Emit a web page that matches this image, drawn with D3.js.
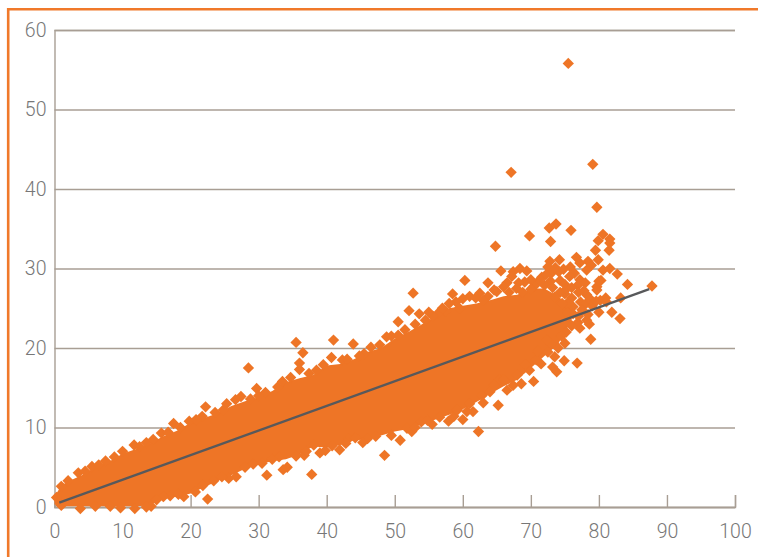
<!DOCTYPE html>
<html>
<head>
<meta charset="utf-8">
<script src="https://cdn.jsdelivr.net/npm/d3@7"></script>
<style>
  html, body { margin: 0; padding: 0; background: #fff; }
  svg { display: block; }
  .tick text { font-family: Roboto, "Liberation Sans", sans-serif; font-weight: 300; font-size: 19.5px; fill: #777777; }
</style>
</head>
<body>
<div id="chart"></div>
<script>
// Axis ticks
const xTicks = [0, 10, 20, 30, 40, 50, 60, 70, 80, 90, 100];
const yTicks = [0, 10, 20, 30, 40, 50, 60];

// The solid middle of the cloud, where single points can't be told apart:
// upper and lower edge at each x
const bandX = [0, 1, 2, 4, 6, 8, 10, 12, 14, 16, 18, 20, 22, 24, 26, 28, 30, 32, 34, 36, 38, 40, 42, 44, 46, 48, 50, 52, 54, 56, 58, 60, 62, 64, 66, 68, 70, 72, 74, 76];
const bandHigh = [1.3, 2.7, 3.2, 4.0, 5.0, 5.7, 6.7, 7.3, 8.0, 8.9, 9.6, 10.6, 11.2, 11.8, 12.7, 13.3, 13.8, 14.6, 15.7, 16.2, 16.6, 17.8, 18.0, 18.6, 19.5, 20.0, 21.2, 22.0, 23.0, 24.0, 25.0, 25.3, 25.6, 26.0, 26.5, 26.7, 27.5, 27.5, 26.5, 25.0];
const bandLow = [0.3, 0.1, 0.1, 0.1, 0.1, 0.1, 0.1, 0.1, 0.2, 1.3, 1.3, 1.7, 2.5, 3.3, 4.0, 4.8, 5.3, 5.8, 6.0, 6.6, 7.6, 7.5, 7.8, 8.4, 8.5, 9.0, 9.5, 9.8, 10.4, 11.0, 11.6, 12.3, 13.2, 14.2, 15.2, 16.0, 17.5, 19.0, 20.5, 23.5];

// Points that stand clear of the solid part, as [x, y]
const points = [
  // far outliers
  [75.5, 55.8], [79.1, 43.1], [67.1, 42.1], [79.7, 37.7], [73.7, 35.6], [72.7, 35.1], [75.9, 34.8], [69.8, 34.1], [64.8, 32.8], [72.9, 33.4],
  [80.6, 34.3], [79.9, 33.5], [81.6, 33.7], [81.5, 32.3], [79.5, 32.3], [79.9, 31.1], [81.6, 33.2],
  // top right, thin part of the cloud
  [65.6, 29.7], [67.4, 29.6], [68.4, 30.0], [69.4, 29.7], [67.2, 29.0], [63.7, 28.2], [69.1, 28.3], [72.8, 30.9], [74.2, 31.1], [72.5, 30.2],
  [76.7, 31.4], [75.8, 30.2], [77.2, 30.7], [78.4, 30.9], [78.9, 30.4], [80.6, 29.8], [81.6, 30.0], [82.7, 29.3], [80.3, 28.5], [84.2, 28.0],
  [87.8, 27.8], [79.7, 27.7], [73.0, 29.4], [74.1, 29.6], [72.9, 28.4], [74.3, 28.5], [75.0, 28.0], [77.2, 28.6], [76.9, 27.9], [76.4, 29.4],
  [75.7, 29.0], [78.2, 29.8], [80.0, 28.4], [79.7, 27.3], [81.0, 26.3], [83.2, 26.3], [78.2, 26.7], [71.0, 28.3], [72.0, 27.9], [70.5, 27.8],
  [75.0, 26.8], [76.0, 26.3], [77.3, 25.8], [74.3, 27.0], [77.0, 27.0], [78.0, 25.5], [79.0, 25.3], [80.2, 26.0], [73.5, 26.4], [76.2, 25.2],
  [75.3, 25.6], [77.5, 24.8], [83.1, 23.7], [81.9, 24.5], [80.0, 24.5], [78.6, 23.0], [77.2, 22.5], [78.2, 23.5], [76.9, 23.2],
  [73.6, 30.1], [74.8, 29.9], [75.2, 27.4], [73.2, 27.6], [76.0, 27.6], [78.0, 28.2], [71.6, 28.9], [72.2, 29.2], [70.0, 28.6], [68.2, 28.2],
  [66.5, 28.2], [77.8, 27.2], [78.8, 26.1], [79.6, 25.9], [77.0, 24.0], [76.2, 24.3], [75.4, 24.4], [81.1, 25.8], [74.6, 25.6], [78.4, 24.2],
  // lower right edge
  [78.8, 21.1], [75.0, 20.6], [76.8, 18.1], [74.9, 18.4], [73.8, 17.0], [73.2, 17.6], [73.5, 18.9], [74.0, 20.0], [73.0, 20.5], [75.2, 22.0],
  [74.5, 21.5], [72.5, 19.5], [71.5, 18.0], [70.4, 15.8], [68.6, 15.5], [70.8, 18.5], [69.8, 17.2], [67.4, 15.3], [65.4, 16.0], [66.5, 14.7],
  [65.2, 12.8], [63.0, 13.1], [61.5, 12.0], [60.6, 12.0], [60.0, 11.0], [62.3, 9.5], [64.0, 14.5], [57.9, 10.8], [58.7, 11.4], [55.5, 10.4],
  [53.9, 10.7], [52.5, 9.5], [51.8, 9.9], [50.8, 8.4], [48.5, 6.5], [49.5, 9.0],
  [53.0, 10.0], [54.8, 10.9], [56.6, 11.3], [59.2, 12.2], [61.0, 13.0], [62.8, 14.0], [64.6, 15.3], [66.0, 16.0], [68.0, 16.6], [69.2, 17.9],
  [71.0, 19.6], [72.4, 21.0], [76.0, 22.8], [47.2, 8.9], [46.0, 8.6],
  // upper edge, right half
  [70.0, 27.4], [67.9, 27.5], [66.0, 27.7], [65.0, 27.1], [63.7, 26.5], [62.5, 26.9], [61.0, 26.5], [60.3, 28.5], [59.0, 25.8], [58.5, 26.8],
  [59.5, 25.0], [57.5, 24.6], [56.4, 24.4], [55.6, 24.0], [54.5, 23.5], [53.6, 24.3], [52.1, 24.7], [52.7, 26.9], [50.5, 23.3], [49.5, 21.5],
  [48.8, 21.4], [50.5, 21.6], [51.5, 22.3], [47.8, 20.4], [46.5, 20.1], [45.5, 19.3],
  [64.6, 27.3], [61.9, 26.3], [60.0, 26.2], [57.0, 25.0], [55.0, 24.5], [53.0, 23.0], [58.0, 25.6], [63.0, 26.0], [66.8, 27.0], [68.8, 27.0],
  // lower left half
  [45.3, 8.1], [43.2, 8.6], [41.9, 7.2], [39.0, 6.8], [39.8, 7.1], [38.1, 7.8], [37.8, 4.1], [36.7, 6.5], [35.5, 6.4], [34.2, 5.0],
  [33.6, 4.7], [31.2, 4.0], [30.5, 5.5], [26.7, 3.8], [25.6, 3.6], [22.5, 1.0], [20.7, 1.9], [19.0, 1.3], [17.0, 1.4], [16.0, 1.3],
  [15.0, 0.9], [14.2, 0.1], [13.5, 0.0], [11.8, -0.2], [9.7, -0.1], [8.2, 0.1], [6.0, 0.1], [3.8, -0.2], [1.0, 0.2], [0.3, 1.2],
  [44.2, 8.7], [42.8, 8.0], [40.8, 7.7], [37.0, 7.0], [33.0, 6.3], [32.0, 6.0], [29.2, 5.4], [28.0, 5.0], [24.6, 3.8], [23.4, 3.3], [21.8, 2.7], [18.2, 1.6],
  // upper edge, left half
  [35.5, 20.7], [41.0, 21.0], [43.9, 20.5], [36.5, 19.4], [36.0, 18.1], [36.0, 17.3], [40.7, 18.8], [28.5, 17.5], [29.7, 14.9], [22.2, 12.6],
  [17.5, 10.5], [11.7, 7.8], [13.5, 8.1], [15.7, 9.3], [25.3, 13.0], [27.4, 13.9], [26.6, 13.5], [34.7, 16.3], [37.4, 16.8], [21.7, 11.4],
  [42.3, 18.5], [39.5, 17.9], [32.8, 15.1], [31.0, 14.4], [23.6, 11.9], [19.8, 10.8], [18.5, 10.0], [10.0, 7.0], [7.5, 5.8], [5.5, 5.1],
  [3.5, 4.3], [2.0, 3.3], [1.0, 2.6],
  [44.8, 19.0], [43.0, 18.6], [38.5, 17.2], [33.5, 15.8], [30.0, 14.0], [28.8, 13.6], [24.8, 12.2], [20.8, 11.0], [16.7, 9.4], [14.5, 8.5], [12.5, 7.6], [8.8, 6.3], [6.5, 5.3], [4.5, 4.5]
];

// Fitted line, its two ends
const trendX = [0.7, 87.4];
const trendY = [0.55, 27.4];

// Define chart dimensions and margins
const margin = { top: 30, right: 23, bottom: 50, left: 54.5 };
const width = 758 - margin.left - margin.right;
const height = 557 - margin.top - margin.bottom;

const orange = "#ee7526";
const rule = "#a89e94";

const root = d3.select("#chart")
    .append("svg")
    .attr("width", 758)
    .attr("height", 557);

// Orange frame at the top and left of the panel
root.append("path")
    .attr("d", d3.line()([[8.2, 557], [8.2, 9.2], [758, 9.2]]))
    .attr("fill", "none")
    .attr("stroke", "#f0792a")
    .attr("stroke-width", 2.6);

const svg = root.append("g")
    .attr("transform", "translate(" + margin.left + "," + margin.top + ")");

// Define scales for x and y axes
const x = d3.scaleLinear().domain([0, 100]).range([0, width]);
const y = d3.scaleLinear().domain([0, 60]).range([height, 0]);

// Append y axis, its long ticks are the grid lines
const yAxis = svg.append("g")
    .call(d3.axisLeft(y).tickValues(yTicks).tickSize(-width).tickPadding(8));

// Append x axis, short ticks pointing up
const xAxis = svg.append("g")
    .attr("transform", "translate(0," + height + ")")
    .call(d3.axisBottom(x).tickValues(xTicks).tickSize(-12).tickPadding(17));

[yAxis, xAxis].forEach(axis => {
    axis.selectAll("line, path").attr("stroke", rule).attr("stroke-width", 1.4);
});

// Solid part of the cloud
const bandArea = d3.area()
    .x((d, i) => x(bandX[i]))
    .y0((d, i) => y(bandLow[i]))
    .y1((d, i) => y(bandHigh[i]));

svg.append("path")
    .datum(bandX)
    .attr("fill", orange)
    .attr("d", bandArea);

// Single points
const diamond = d3.symbol().type(d3.symbolDiamond2).size(82);

svg.append("g")
    .selectAll("path")
    .data(points)
    .join("path")
    .attr("transform", d => "translate(" + x(d[0]) + "," + y(d[1]) + ")")
    .attr("fill", orange)
    .attr("d", diamond);

// Trend line on top
const trendLine = d3.line()
    .x(d => x(d))
    .y((d, i) => y(trendY[i]));

svg.append("path")
    .datum(trendX)
    .attr("fill", "none")
    .attr("stroke", "#58595b")
    .attr("stroke-width", 2.4)
    .attr("d", trendLine);
</script>
</body>
</html>
